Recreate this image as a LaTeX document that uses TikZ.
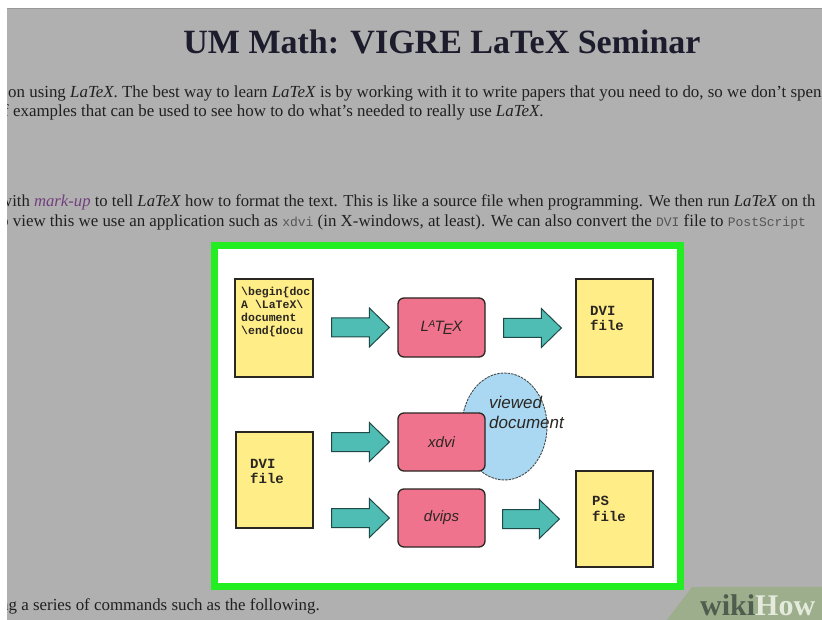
\documentclass[tikz,border=0pt]{standalone}
\usepackage{fontspec}
\setmainfont{Liberation Serif}
\setsansfont{Liberation Sans}
\setmonofont{Liberation Mono}
\usetikzlibrary{shapes.geometric,calc}
\definecolor{pagebg}{HTML}{B0B0B0}
\definecolor{titlecol}{HTML}{1C1C2C}
\definecolor{bodycol}{HTML}{202020}
\definecolor{markcol}{HTML}{73407F}
\definecolor{monocol}{HTML}{555555}
\definecolor{framegreen}{HTML}{22EE22}
\definecolor{docyellow}{HTML}{FFEE88}
\definecolor{procpink}{HTML}{F0738E}
\definecolor{arrowteal}{HTML}{4FBDB3}
\definecolor{arrowedge}{HTML}{1F4A48}
\definecolor{viewblue}{HTML}{AAD8F2}
\definecolor{edgedark}{HTML}{2A2622}
\definecolor{wmband}{HTML}{9CAE8C}
\definecolor{wmdark}{HTML}{4E5E4E}
\definecolor{wmlight}{HTML}{E4EADC}
\newcommand\monow[1]{{\fontsize{13}{13}\selectfont\ttfamily\color{monocol}#1}}
\newcommand\BArrow[2]{\draw[barrow] let \p1=#1, \p2=#2 in
  (\x1,\y2+9.5) -- (\x2-20,\y2+9.5) -- (\x2-20,\y2+19.5) -- (\x2,\y2)
  -- (\x2-20,\y2-19.5) -- (\x2-20,\y2-9.5) -- (\x1,\y2-9.5) -- cycle;}
\tikzset{
  bodytext/.style={inner sep=0pt, anchor=base west, text=bodycol, font=\fontsize{16.9}{20}\selectfont},
  ybox/.style={draw=edgedark, line width=1.3pt, fill=docyellow, minimum width=77pt, minimum height=97pt, inner sep=0pt},
  pbox/.style={draw=edgedark, line width=1.3pt, fill=procpink, rounded corners=6pt, minimum width=87pt, minimum height=58pt, inner sep=0pt, font=\sffamily\itshape\fontsize{15}{18}\selectfont, text=edgedark},
  ytext/.style={inner sep=0pt, anchor=north west, align=left, text=edgedark},
  barrow/.style={fill=arrowteal, draw=arrowedge, line width=1pt, line join=miter},
}
\begin{document}
\begin{tikzpicture}[x=1pt,y=-1pt]
\useasboundingbox (0,0) rectangle (822,620);
\clip (0,0) rectangle (822,620);
\fill[pagebg] (0,0) rectangle (822,620);

% page text
\node[inner sep=0pt, anchor=base, text=titlecol, font=\bfseries\fontsize{34}{40}\selectfont] (title) at (442,54) {UM Math: VIGRE LaTeX Seminar};
\node[bodytext] (l1) at (8,98) {on using \textit{LaTeX}. The best way to learn \textit{LaTeX} is by working with it to write papers that you need to do, so we don't spen};
\node[bodytext] (l2) at (3,117) {f examples that can be used to see how to do what's needed to really use \textit{LaTeX}.};
\node[bodytext, font=\fontsize{16.7}{20}\selectfont] (l3) at (0,207) {with \textcolor{markcol}{\textit{mark-up}} to tell \textit{LaTeX} how to format the text. This is like a source file when programming. We then run \textit{LaTeX} on th};
\node[bodytext] (l4) at (0,227) {o view this we use an application such as \monow{xdvi} (in X-windows, at least). We can also convert the \monow{DVI} file to \monow{PostScript}};
\node[bodytext] (l5) at (0,610) {ng a series of commands such as the following.};

% diagram frame
\draw[framegreen, line width=7pt, fill=white] (214.5,245.5) rectangle (680.5,586.5);

% viewed document ellipse
\node[ellipse, draw=edgedark!80!viewblue, dash pattern=on 2.5pt off 1pt, line width=0.9pt, fill=viewblue, minimum width=85pt, minimum height=107pt, inner sep=0pt] (view) at (504.5,426.5) {};
\node[ytext, font=\sffamily\itshape\fontsize{17}{20}\selectfont] (viewtxt) at (489,396) {viewed\\document};

% documents
\node[ybox, minimum width=78pt, minimum height=98pt] (src) at (274,328) {};
\node[ytext, font=\ttfamily\bfseries\fontsize{11.5}{13}\selectfont] (srctxt) at (241,286.5) {\textbackslash begin\{doc\\A \textbackslash LaTeX\textbackslash\\document\\\textbackslash end\{docu};
\node[ybox, minimum height=98pt] (dvitop) at (614.5,328) {};
\node[ytext, font=\ttfamily\bfseries\fontsize{14}{15}\selectfont] (dvitoptxt) at (590,305.8) {DVI\\file};
\node[ybox, minimum height=96pt] (dvileft) at (274.5,480) {};
\node[ytext, font=\ttfamily\bfseries\fontsize{14}{15}\selectfont] (dvilefttxt) at (250,458.8) {DVI\\file};
\node[ybox, minimum height=96pt] (ps) at (614.5,519) {};
\node[ytext, font=\ttfamily\bfseries\fontsize{14}{16.5}\selectfont] (pstxt) at (592,495.8) {PS\\file};

% processes
\node[pbox, minimum height=59pt] (latex) at (441.5,327.5) {L\kern-0.5pt\raisebox{4.5pt}{\fontsize{10}{10}\selectfont A}\kern-0.5pt T\kern-1pt\raisebox{-3pt}{E}\kern-0.5pt X};
\node[pbox] (xdvi) at (441.5,442) {xdvi};
\node[pbox] (dvips) at (441.5,518) {dvips};

% block arrows
\BArrow{($(src.east)+(18,0)$)}{($(latex.west)+(-8,0)$)}
\BArrow{($(latex.east)+(18,0)$)}{($(dvitop.west)+(-14,0)$)}
\BArrow{($(dvileft.east)+(18,0)$)}{($(xdvi.west)+(-8,0)$)}
\BArrow{($(dvileft.east)+(18,0)$)}{($(dvips.west)+(-8,0)$)}
\BArrow{($(dvips.east)+(17,0)$)}{($(ps.west)+(-16,0)$)}

% screenshot edges
\fill[white] (0,0) rectangle (822,8);
\fill[white] (0,0) rectangle (7,620);
\draw[gray!80, line width=1.5pt] (7,8.75) -- (822,8.75);

% watermark
\fill[wmband] (692,587) -- (822,587) -- (822,620) -- (667,620) -- cycle;
\node[inner sep=0pt, anchor=base west, font=\bfseries\fontsize{30}{32}\selectfont] (wm) at (700,615) {\textcolor{wmdark}{wiki}\textcolor{wmlight}{How}};
\end{tikzpicture}
\end{document}
